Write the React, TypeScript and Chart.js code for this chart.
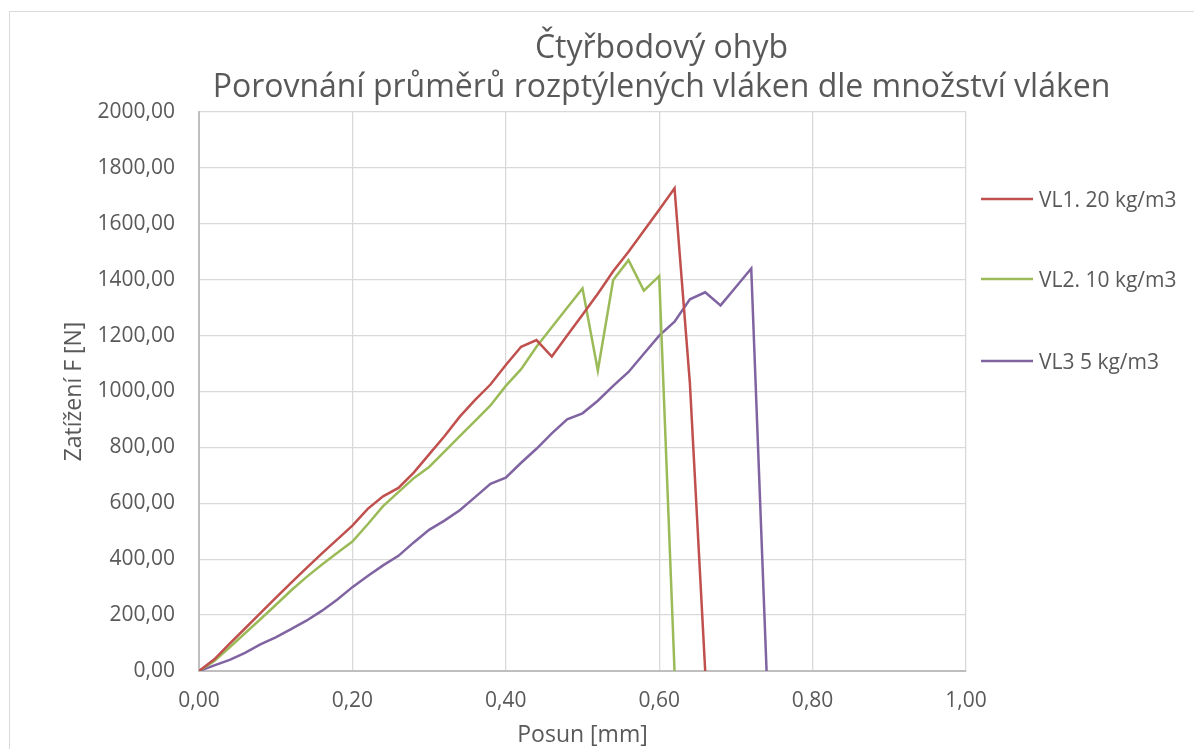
import React, { useEffect, useRef } from 'react';
import { Chart, registerables } from 'chart.js';

Chart.register(...registerables);

const FONT = '"Open Sans", "Noto Sans", sans-serif';
const TEXT_COLOR = '#595959';

const TITLE_LINES = ['Čtyřbodový ohyb', 'Porovnání průměrů rozptýlených vláken dle množství vláken'];
const X_TITLE = 'Posun [mm]';
const Y_TITLE = 'Zatížení F [N]';

const SERIES_NAMES = ['VL1. 20 kg/m3', 'VL2. 10 kg/m3', 'VL3 5 kg/m3'];
const SERIES_COLORS = ['#C0504D', '#9BBB59', '#8064A2'];

const X_MIN = 0;
const X_MAX = 1;
const X_STEP = 0.2;
const Y_MIN = 0;
const Y_MAX = 2000;
const Y_STEP = 200;

// VL1. 20 kg/m3
const POSUN_VL1 = [
  0, 0.02, 0.04, 0.06, 0.08, 0.1, 0.12, 0.14, 0.16, 0.18, 0.2, 0.22, 0.24, 0.26, 0.28, 0.3, 0.32,
  0.34, 0.36, 0.38, 0.4, 0.42, 0.44, 0.46, 0.48, 0.5, 0.52, 0.54, 0.56, 0.58, 0.6, 0.62, 0.64, 0.66,
];
const F_VL1 = [
  0, 42, 98, 152, 207, 262, 315, 368, 420, 470, 520, 580, 625, 655, 710, 775, 840,
  910, 970, 1025, 1095, 1160, 1184, 1125, 1200, 1275, 1350, 1430, 1500, 1575, 1650, 1727, 1030, 0,
];

// VL2. 10 kg/m3
const POSUN_VL2 = [
  0, 0.02, 0.04, 0.06, 0.08, 0.1, 0.12, 0.14, 0.16, 0.18, 0.2, 0.22, 0.24, 0.26, 0.28, 0.3, 0.32,
  0.34, 0.36, 0.38, 0.4, 0.42, 0.44, 0.46, 0.48, 0.5, 0.52, 0.54, 0.56, 0.58, 0.6, 0.62,
];
const F_VL2 = [
  0, 36, 85, 135, 185, 236, 288, 336, 380, 422, 463, 525, 590, 640, 690, 730, 785,
  840, 895, 950, 1020, 1080, 1160, 1230, 1300, 1369, 1075, 1399, 1470, 1361, 1413, 0,
];

// VL3 5 kg/m3
const POSUN_VL3 = [
  0, 0.02, 0.04, 0.06, 0.08, 0.1, 0.12, 0.14, 0.16, 0.18, 0.2, 0.22, 0.24, 0.26, 0.28, 0.3, 0.32,
  0.34, 0.36, 0.38, 0.4, 0.42, 0.44, 0.46, 0.48, 0.5, 0.52, 0.54, 0.56, 0.58, 0.6, 0.62, 0.64, 0.66,
  0.68, 0.7, 0.72, 0.74,
];
const F_VL3 = [
  0, 20, 40, 65, 95, 120, 150, 180, 215, 255, 300, 340, 378, 412, 460, 505, 538,
  575, 622, 670, 692, 745, 795, 850, 900, 922, 967, 1020, 1070, 1135, 1200, 1250, 1330, 1355,
  1308, 1374, 1440, 0,
];

const SERIES_X = [POSUN_VL1, POSUN_VL2, POSUN_VL3];
const SERIES_Y = [F_VL1, F_VL2, F_VL3];

const fmt = (v: number) => Number(v).toFixed(2).replace('.', ',');

const decorPlugin = {
  id: 'excelDecor',
  afterDraw(chart: any) {
    const ctx = chart.ctx as CanvasRenderingContext2D;
    const area = chart.chartArea;
    ctx.save();
    // Title
    ctx.fillStyle = TEXT_COLOR;
    ctx.font = `32px ${FONT}`;
    ctx.textAlign = 'center';
    ctx.textBaseline = 'alphabetic';
    const cx = (area.left + area.right) / 2 + 79;
    ctx.fillText(TITLE_LINES[0], cx, area.top - 54);
    ctx.fillText(TITLE_LINES[1], cx, area.top - 15);
    // Legend
    ctx.font = `21px ${FONT}`;
    ctx.textAlign = 'left';
    const lx = area.right + 15;
    const rowY = [area.top + 87, area.top + 167, area.top + 249];
    chart.data.datasets.forEach((ds: any, i: number) => {
      const y = rowY[i];
      ctx.strokeStyle = ds.borderColor;
      ctx.lineWidth = 2.5;
      ctx.beginPath();
      ctx.moveTo(lx, y);
      ctx.lineTo(lx + 52, y);
      ctx.stroke();
      ctx.fillStyle = TEXT_COLOR;
      ctx.fillText(ds.label, lx + 58, y + 7.5);
    });
    ctx.restore();
  },
};

export default function App() {
  const canvasRef = useRef<HTMLCanvasElement | null>(null);

  useEffect(() => {
    const canvas = canvasRef.current;
    if (!canvas) return;
    const datasets = SERIES_NAMES.map((name, i) => ({
      label: name,
      data: SERIES_X[i].map((x, j) => ({ x, y: SERIES_Y[i][j] })),
      borderColor: SERIES_COLORS[i],
      backgroundColor: SERIES_COLORS[i],
      borderWidth: 2.5,
      pointRadius: 0,
      pointHoverRadius: 0,
      tension: 0,
      fill: false,
    }));

    const chart = new Chart(canvas, {
      type: 'line',
      data: { datasets },
      plugins: [decorPlugin],
      options: {
        responsive: false,
        animation: false,
        devicePixelRatio: 1,
        layout: { padding: { top: 112, right: 228, bottom: 0, left: 0 } },
        plugins: {
          legend: { display: false },
          title: { display: false },
          tooltip: { enabled: false },
        },
        scales: {
          x: {
            type: 'linear',
            min: X_MIN,
            max: X_MAX,
            afterFit: (s: any) => {
              s.height = 78;
            },
            ticks: {
              stepSize: X_STEP,
              color: TEXT_COLOR,
              font: { family: FONT, size: 21 },
              padding: 17,
              maxRotation: 0,
              callback: (v: any) => fmt(v),
            },
            grid: { color: '#d9d9d9', lineWidth: 1.3, drawTicks: false },
            border: { color: '#bfbfbf', width: 2 },
            title: {
              display: true,
              text: X_TITLE,
              color: TEXT_COLOR,
              font: { family: FONT, size: 23 },
              padding: { top: 0, bottom: 0 },
            },
          },
          y: {
            type: 'linear',
            min: Y_MIN,
            max: Y_MAX,
            afterFit: (s: any) => {
              s.width = 199;
            },
            ticks: {
              stepSize: Y_STEP,
              color: TEXT_COLOR,
              font: { family: FONT, size: 21 },
              padding: 24,
              callback: (v: any) => fmt(v),
            },
            grid: { color: '#d9d9d9', lineWidth: 1.3, drawTicks: false },
            border: { color: '#bfbfbf', width: 2 },
            title: {
              display: true,
              text: Y_TITLE,
              color: TEXT_COLOR,
              font: { family: FONT, size: 23 },
              padding: { top: 61, bottom: 0 },
            },
          },
        },
      },
    });
    return () => chart.destroy();
  }, []);

  return (
    <div>
      <div
        style={{
          position: 'fixed',
          left: 9,
          top: 11,
          width: 1185,
          height: 738,
          borderTop: '1.5px solid #d9d9d9',
          borderLeft: '1.5px solid #d9d9d9',
          boxSizing: 'border-box',
        }}
      />
      <canvas
        ref={canvasRef}
        width={1194}
        height={749}
        style={{ position: 'fixed', left: 0, top: 0, width: 1194, height: 749 }}
      />
    </div>
  );
}
